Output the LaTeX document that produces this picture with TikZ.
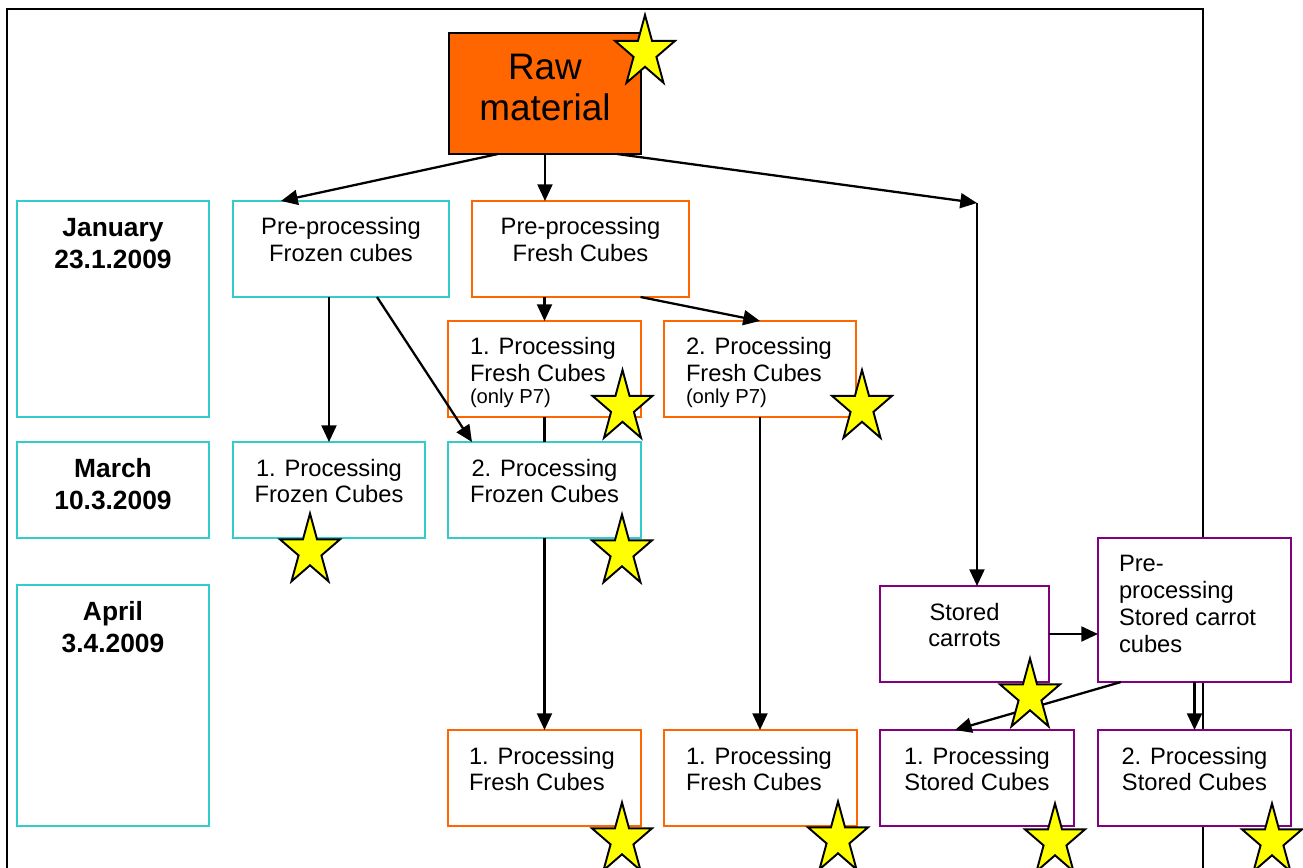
\documentclass[tikz,border=0pt]{standalone}
\usepackage{fontspec}
\setmainfont{Liberation Sans}
\usetikzlibrary{arrows.meta,calc,backgrounds}
\newlength\pxu \setlength\pxu{0.02cm}
\definecolor{cyanb}{RGB}{51,204,204}
\definecolor{orangeb}{RGB}{255,102,0}
\definecolor{purpleb}{RGB}{128,0,128}
\definecolor{stary}{RGB}{255,255,0}
\newcommand\regtext{\fontsize{13.5}{14.8}\selectfont}
\newcommand\smalltext{\fontsize{11.5}{12.8}\selectfont}
\newcommand\cbox[3]{\parbox[c][#2\pxu][t]{#1\pxu}{\regtext\centering\vspace*{16\pxu}\rule{0pt}{18\pxu}#3}}
\newcommand\lbox[4]{\parbox[c][#2\pxu][t]{#1\pxu}{\regtext\raggedright\leftskip=#3\pxu\vspace*{16\pxu}\rule{0pt}{18\pxu}#4}}
\newcommand\dbox[2]{\parbox[c][#1\pxu][t]{192\pxu}{\fontsize{15}{18.2}\selectfont\bfseries\centering\vspace*{15.4\pxu}\rule{0pt}{20\pxu}#2}}
\newcommand\rawbox{\parbox[c][121\pxu][t]{192\pxu}{\fontsize{21}{23.3}\selectfont\centering\vspace*{19.5\pxu}\rule{0pt}{27\pxu}Raw\\material}}
\begin{document}
\begin{tikzpicture}[x=0.02cm,y=-0.02cm,
  bx/.style={draw, line width=1.1pt, fill=white, inner sep=0pt, outer sep=0pt, anchor=north west},
  cyanbox/.style={bx, draw=cyanb},
  orangebox/.style={bx, draw=orangeb},
  purplebox/.style={bx, draw=purpleb},
  arr/.style={line width=1.3pt, -{Triangle[length=9.5pt,width=8.5pt]}},
  ln/.style={line width=1.2pt},
  starline/.style={draw=black, fill=stary, line width=1.1pt, line join=miter},
  ystar/.pic={\path[starline] (-90:31.5 and 37.5) -- (-54:12 and 14.3) -- (-18:31.5 and 37.5) -- (18:12 and 14.3) -- (54:31.5 and 37.5) -- (90:12 and 14.3) -- (126:31.5 and 37.5) -- (162:12 and 14.3) -- (198:31.5 and 37.5) -- (234:12 and 14.3) -- cycle;}]
\useasboundingbox (0,0) rectangle (1303,868);

% boxes
\node[orangebox, fill=orangeb, draw=black] (raw) at (449,33) {\rawbox};
\node[cyanbox] (jan) at (17,201) {\dbox{216}{January\\23.1.2009}};
\node[cyanbox] (mar) at (17,442) {\dbox{96}{March\\10.3.2009}};
\node[cyanbox] (apr) at (17,585) {\dbox{241}{April\\3.4.2009}};
\node[cyanbox] (prefz) at (233,201) {\cbox{216}{96}{Pre-processing\\Frozen cubes}};
\node[orangebox] (prefr) at (472,201) {\cbox{217}{96}{Pre-processing\\Fresh Cubes}};
\node[orangebox] (pf1) at (448,321) {\lbox{193}{96}{22}{1. Processing\\Fresh Cubes\par\smalltext (only P7)}};
\node[orangebox] (pf2) at (664,321) {\lbox{192}{96}{22}{2. Processing\\Fresh Cubes\par\smalltext (only P7)}};
\node[cyanbox] (pz1) at (233,442) {\cbox{192}{96}{1. Processing\\Frozen Cubes}};
\node[cyanbox] (pz2) at (448,442) {\cbox{193}{96}{2. Processing\\Frozen Cubes}};
\node[purplebox] (sc) at (880,586) {\cbox{169}{96}{Stored\\carrots}};
\node[purplebox] (psc) at (1098,538) {\parbox[c][144\pxu][t]{193\pxu}{\fontsize{13.5}{15.5}\selectfont\raggedright\leftskip=21\pxu\vspace*{15\pxu}\rule{0pt}{18\pxu}Pre-\\processing\\Stored carrot\\cubes}};
\node[orangebox] (bf1) at (448,730) {\lbox{193}{96}{21}{1. Processing\\Fresh Cubes}};
\node[orangebox] (bf2) at (664,730) {\lbox{193}{96}{22}{1. Processing\\Fresh Cubes}};
\node[purplebox] (bs1) at (880,730) {\cbox{194}{96}{1. Processing\\Stored Cubes}};
\node[purplebox] (bs2) at (1098,730) {\cbox{193}{96}{2. Processing\\Stored Cubes}};
\coordinate (j) at (977,203);

% frame behind the boxes
\begin{scope}[on background layer]
  \draw[ln] (7,868) -- (7,9) -- (1203,9) -- (1203,868);
\end{scope}

% connectors
\draw[arr] ($(raw.south)+(-47,0)$) -- ($(prefz.north)+(-60,0)$);
\draw[arr] (raw.south) -- (raw.south |- prefr.north);
\draw[arr] ($(raw.south)+(72,0)$) -- (j);
\draw[arr] (j) -- (j |- sc.north);
\draw[arr] (pf1.north |- prefr.south) -- (pf1.north);
\draw[arr] ($(prefr.south)+(60,0)$) -- (pf2.north);
\draw[arr] (pz1.north |- prefz.south) -- (pz1.north);
\draw[arr] ($(prefz.south)+(36,0)$) -- ($(pz2.north west)+(24,0)$);
\draw[ln, line width=1.3pt] (pf1.south) -- (pf1.south |- pz2.north);
\draw[arr] (pz2.south) -- (pz2.south |- bf1.north);
\draw[arr] (pf2.south) -- (pf2.south |- bf2.north);
\draw[arr] (sc.east) -- (sc.east -| psc.west);
\draw[arr] ($(psc.south west)+(23,0)$) -- ($(bs1.north)+(-22,0)$);
\draw[arr] (psc.south) -- (psc.south |- bs2.north);

% stars
\pic at (645,52.5) {ystar};
\pic at (622.5,407.5) {ystar};
\pic at (862,407.5) {ystar};
\pic at (310,551) {ystar};
\pic at (622,552) {ystar};
\pic at (1030,696) {ystar};
\pic at (622,840) {ystar};
\pic at (838,839) {ystar};
\pic at (1055,841) {ystar};
\pic at (1272,841) {ystar};
\end{tikzpicture}
\end{document}
